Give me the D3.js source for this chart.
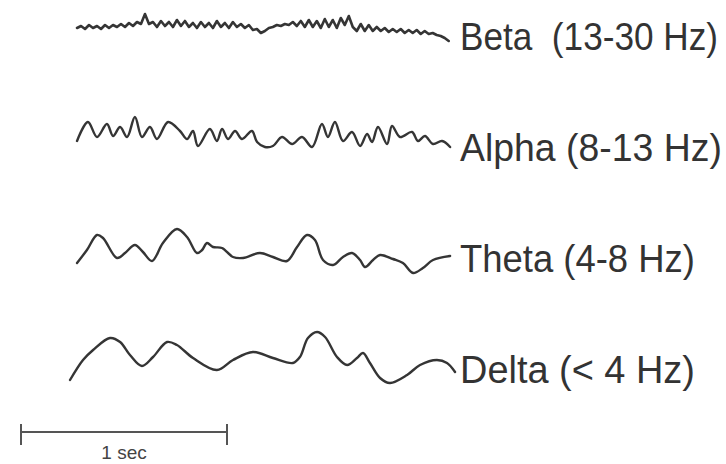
<!DOCTYPE html>
<html>
<head>
<meta charset="utf-8">
<script src="https://cdn.jsdelivr.net/npm/d3@7"></script>
<style>
  html, body { margin: 0; padding: 0; background: #fff; }
  svg { display: block; }
</style>
</head>
<body>
<div id="chart"></div>
<script>
// EEG rhythm traces.
// time in seconds, amplitude in arbitrary units (up = positive)

const bands = ['Beta', 'Alpha', 'Theta', 'Delta'];
const bandLabels = ['Beta  (13-30 Hz)', 'Alpha (8-13 Hz)', 'Theta (4-8 Hz)', 'Delta (< 4 Hz)'];

// beta is sampled at a fixed step, the slower waves were traced point by point
const betaStart = 0.272;
const betaStep = 0.0194;
const betaValues = [
  -1, 1, -2, 2, -1, 1, -2, 2, -1, 2, 0, 3, 0, 4, 1, 5, 3, 13,
  3, 5, 0, 6, 1, 5, 0, 7, 1, 6, 0, 4, -1, 5, 0, 4, -1, 6, 0, 4, -1, 5,
  0, 3, -1, 2, -3, -2, -6, -4, -1, 0, 2, 1, 3, 2, 5, 1, 6, 0, 7, 0,
  6, -1, 8, 0, 7, -1, 9, 2, 11, 0, -4, 3, -4, 2, -4, 0, -4, -1, -5, -2,
  -5, -2, -6, -3, -6, -3, -7, -4, -7, -6, -8, -9, -11, -14
];

const alphaTime = [
  0.272, 0.325, 0.369, 0.417, 0.447, 0.481, 0.515, 0.553, 0.587, 0.626,
  0.660, 0.714, 0.772, 0.806, 0.835, 0.859, 0.917, 0.951, 0.976, 1.005,
  1.039, 1.073, 1.121, 1.146, 1.184, 1.223, 1.267, 1.316, 1.364, 1.413,
  1.461, 1.490, 1.524, 1.563, 1.607, 1.646, 1.680, 1.704, 1.733, 1.777,
  1.801, 1.840, 1.898, 1.927, 1.961, 2.000, 2.044, 2.083
];
const alphaValues = [
  -3, 16, 1, 14, 2, 11, 1, 21, 1, 11,
  -1, 16, 7, -1, 7, -8, 9, -3, 9, -1,
  7, -1, 7, -4, -9, -8, 1, -6, 1, -9,
  14, 1, 16, -3, 6, -8, 4, -4, 11, -6,
  12, 1, 6, -3, 2, -6, -3, -9
];

const thetaTime = [
  0.272, 0.320, 0.369, 0.398, 0.466, 0.505, 0.553, 0.592, 0.636, 0.689,
  0.757, 0.806, 0.854, 0.879, 0.903, 0.932, 0.976, 1.029, 1.078, 1.160,
  1.223, 1.291, 1.340, 1.388, 1.427, 1.466, 1.515, 1.563, 1.607, 1.646,
  1.670, 1.709, 1.743, 1.806, 1.854, 1.903, 1.951, 2.000, 2.083
];
const thetaValues = [
  -14, -1, 14, 11, -9, -4, 4, -3, -12, 6,
  20, 12, -4, -1, 6, 2, 1, -8, -9, -4,
  -8, -12, 2, 14, 9, -11, -16, -8, -4, -11,
  -18, -11, -6, -10, -14, -24, -19, -11, -7
];

const deltaTime = [
  0.238, 0.301, 0.350, 0.432, 0.481, 0.529, 0.587, 0.641, 0.709, 0.757,
  0.835, 0.951, 1.029, 1.126, 1.223, 1.320, 1.354, 1.393, 1.437, 1.476,
  1.534, 1.583, 1.631, 1.660, 1.694, 1.743, 1.791, 1.874, 1.937, 2.019,
  2.068, 2.107
];
const deltaValues = [
  -20, 0, 10, 22, 18, 5, -6, 3, 18, 15,
  2, -10, 0, 8, 2, -3, 3, 22, 28, 23,
  3, -5, 2, 7, -3, -18, -23, -15, -5, 0,
  -3, -12
];

const scaleBarSeconds = [0, 1];
const scaleBarLabel = '1 sec';

const width = 726;
const height = 464;

const svg = d3.select('#chart').append('svg')
  .attr('width', width)
  .attr('height', height);

// 1 second = 206 px
const x = d3.scaleLinear().domain([0, 2.1]).range([21, 21 + 2.1 * 206]);
const row = d3.scalePoint().domain(bands).range([27, 360]);
const amp = d3.scaleLinear().domain([-30, 30]).range([30, -30]);

const traces = [
  { band: 'Beta', points: betaValues.map((v, i) => [betaStart + i * betaStep, v]), curve: d3.curveLinear, sw: 2.6 },
  { band: 'Alpha', points: alphaTime.map((t, i) => [t, alphaValues[i]]), curve: d3.curveCatmullRom, sw: 2.4 },
  { band: 'Theta', points: thetaTime.map((t, i) => [t, thetaValues[i]]), curve: d3.curveCatmullRom, sw: 2.4 },
  { band: 'Delta', points: deltaTime.map((t, i) => [t, deltaValues[i]]), curve: d3.curveCatmullRom, sw: 2.4 }
];

const groups = svg.selectAll('.trace')
  .data(traces)
  .enter()
  .append('g')
  .attr('class', 'trace')
  .attr('transform', d => `translate(0, ${row(d.band)})`);

groups.append('path')
  .attr('fill', 'none')
  .attr('stroke', '#353535')
  .attr('stroke-width', d => d.sw)
  .attr('stroke-linejoin', 'round')
  .attr('stroke-linecap', 'round')
  .attr('d', d => d3.line()
    .x(p => x(p[0]))
    .y(p => amp(p[1]))
    .curve(d.curve)(d.points));

// labels to the right of each trace, squeezed horizontally like the
// condensed typeface of the original
const labelWidths = { Beta: 258, Alpha: 262, Theta: 235, Delta: 235 };
groups.append('text')
  .attr('font-family', 'Liberation Sans, Arial, sans-serif')
  .attr('font-size', 39)
  .attr('fill', '#333')
  .style('white-space', 'pre')
  .text(d => bandLabels[bands.indexOf(d.band)])
  .attr('transform', function(d) {
    const natural = this.getComputedTextLength();
    const sx = labelWidths[d.band] / natural;
    return `translate(460, 23) scale(${sx}, 1)`;
  });

// scale bar
const bar = svg.append('g').attr('class', 'scale-bar');
bar.append('line')
  .attr('x1', x(scaleBarSeconds[0]))
  .attr('x2', x(scaleBarSeconds[1]))
  .attr('y1', 432).attr('y2', 432)
  .attr('stroke', '#555')
  .attr('stroke-width', 2);
bar.selectAll('.tick')
  .data(scaleBarSeconds)
  .enter()
  .append('line')
  .attr('class', 'tick')
  .attr('x1', d => x(d)).attr('x2', d => x(d))
  .attr('y1', 424).attr('y2', 445)
  .attr('stroke', '#555')
  .attr('stroke-width', 2);
bar.append('text')
  .attr('x', x(0.5))
  .attr('y', 459)
  .attr('text-anchor', 'middle')
  .attr('font-family', 'Liberation Sans, Arial, sans-serif')
  .attr('font-size', 19)
  .attr('fill', '#444')
  .text(scaleBarLabel);
</script>
</body>
</html>
